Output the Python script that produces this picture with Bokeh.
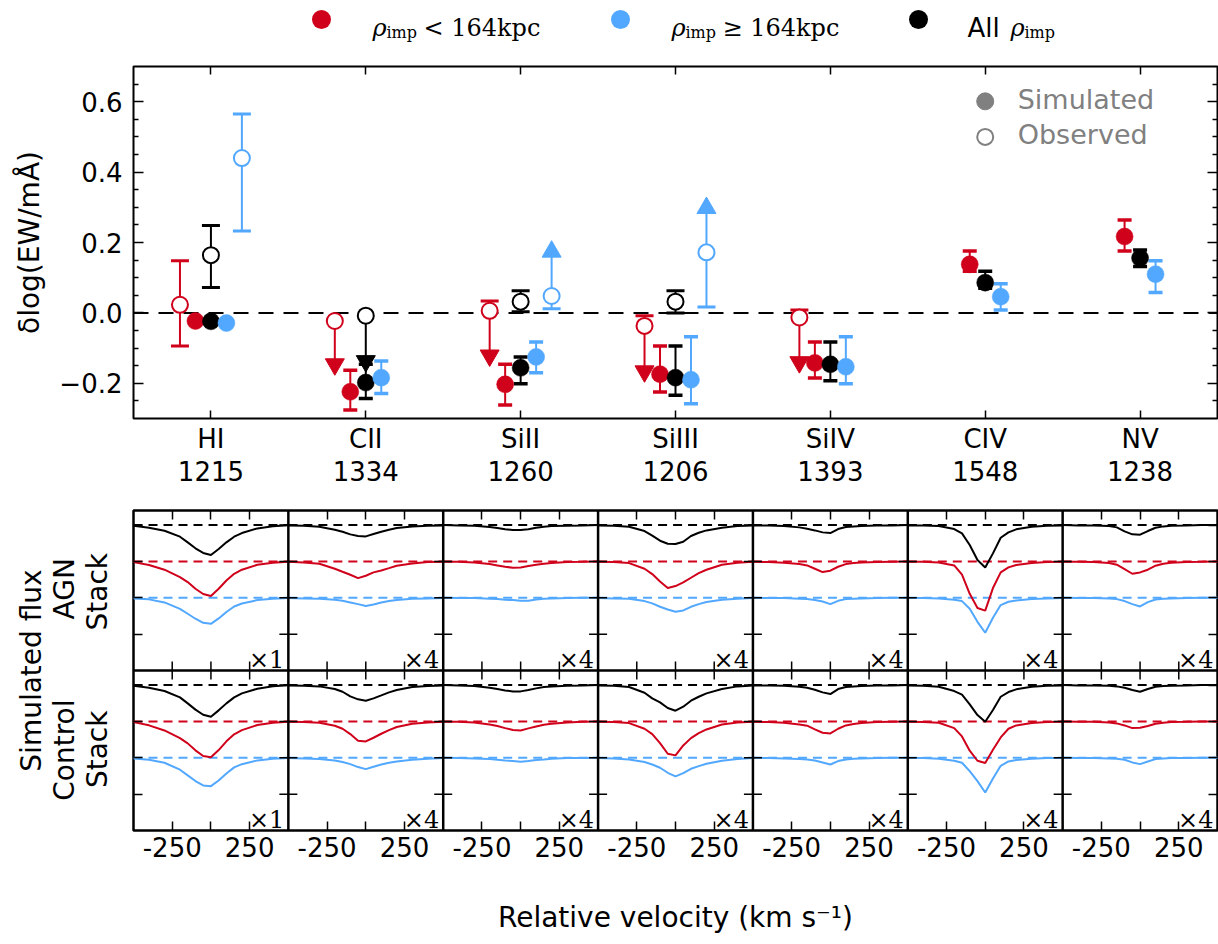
import math
from bokeh.plotting import figure
from bokeh.models import Range1d, FixedTicker, LinearAxis, Span, CustomJSTickFormatter
from bokeh.layouts import column
from bokeh.embed import file_html
from bokeh.resources import INLINE
from bokeh.core.properties import value

nan = float("nan")
RED = "#d0021b"
BLUE = "#52a8ff"
BLACK = "#000000"
GRAY = "#808080"

# ------------------------------------------------------------------ top panel data
IONS = ["HI", "CII", "SiII", "SiIII", "SiIV", "CIV", "NV"]
WAVELENGTHS = ["1215", "1334", "1260", "1206", "1393", "1548", "1238"]

# simulated (filled) -- value, lower end, upper end of error bar
SIM_NEAR = [-0.023, -0.224, -0.203, -0.174, -0.142, 0.138, 0.217]
SIM_NEAR_LO = [nan, -0.276, -0.262, -0.225, -0.185, 0.118, 0.176]
SIM_NEAR_HI = [nan, -0.163, -0.146, -0.094, -0.083, 0.176, 0.264]
SIM_ALL = [-0.024, -0.198, -0.156, -0.184, -0.146, 0.086, 0.156]
SIM_ALL_LO = [nan, -0.243, -0.201, -0.234, -0.193, 0.070, 0.132]
SIM_ALL_HI = [nan, -0.146, -0.125, -0.094, -0.083, 0.118, 0.179]
SIM_FAR = [-0.029, -0.184, -0.125, -0.190, -0.153, 0.046, 0.110]
SIM_FAR_LO = [nan, -0.229, -0.170, -0.258, -0.201, 0.008, 0.058]
SIM_FAR_HI = [nan, -0.137, -0.083, -0.068, -0.068, 0.083, 0.148]

# observed (open) -- value, error bar ends, and limit arrows
OBS_NEAR = [0.023, -0.023, 0.006, -0.037, -0.013, nan, nan]
OBS_NEAR_LO = [-0.094, nan, nan, nan, nan, nan, nan]
OBS_NEAR_HI = [0.148, nan, 0.034, -0.008, 0.008, nan, nan]
OBS_NEAR_UPPER_LIMIT = [nan, -0.146, -0.121, -0.166, -0.140, nan, nan]
OBS_ALL = [0.164, -0.008, 0.032, 0.032, nan, nan, nan]
OBS_ALL_LO = [0.072, nan, 0.003, 0.000, nan, nan, nan]
OBS_ALL_HI = [0.248, nan, 0.063, 0.063, nan, nan, nan]
OBS_ALL_UPPER_LIMIT = [nan, -0.137, nan, nan, nan, nan, nan]
OBS_FAR = [0.440, nan, 0.048, 0.172, nan, nan, nan]
OBS_FAR_LO = [0.233, nan, 0.012, 0.017, nan, nan, nan]
OBS_FAR_HI = [0.565, nan, nan, nan, nan, nan, nan]
OBS_FAR_LOWER_LIMIT = [nan, nan, 0.174, 0.298, nan, nan, nan]

# ------------------------------------------------------------------ stacked profiles
VELOCITY = [-500, -400, -300, -200, -150, -100, -50, 0, 50, 100, 150, 200, 300, 400, 500]
DISPLAY_SCALE = [1, 4, 4, 4, 4, 4, 4]
# absorption depth (percent of continuum)
HI_AGN_ALL = [0.5, 1.8, 3.9, 8.0, 11.9, 16.0, 19.2, 20.6, 16.5, 11.9, 8.0, 5.5, 2.3, 0.9, 0.2]
HI_AGN_NEAR = [0.5, 2.5, 5.7, 10.8, 14.2, 18.8, 22.4, 23.8, 18.8, 13.1, 8.5, 5.7, 2.3, 0.9, 0.2]
HI_AGN_FAR = [0.5, 1.1, 3.2, 7.6, 11.0, 14.4, 17.2, 17.9, 14.2, 9.8, 6.0, 3.9, 1.6, 0.7, 0.2]
HI_CTL_ALL = [0.5, 1.8, 4.1, 8.5, 12.6, 16.9, 20.4, 21.8, 17.4, 12.6, 8.5, 5.7, 2.5, 0.9, 0.2]
HI_CTL_NEAR = [0.5, 2.7, 6.2, 11.5, 15.1, 19.9, 23.8, 24.7, 19.7, 13.7, 8.9, 6.0, 2.5, 0.9, 0.2]
HI_CTL_FAR = [0.5, 1.4, 3.4, 8.2, 12.1, 16.0, 19.0, 19.5, 15.6, 10.8, 6.6, 4.4, 1.8, 0.7, 0.2]

C2_AGN_ALL = [0.06, 0.11, 0.29, 0.80, 1.15, 1.60, 1.89, 1.95, 1.55, 1.15, 0.80, 0.52, 0.23, 0.11, 0.06]
C2_AGN_NEAR = [0.06, 0.17, 0.40, 1.26, 1.78, 2.29, 2.87, 2.46, 1.89, 1.55, 1.15, 0.74, 0.34, 0.11, 0.06]
C2_AGN_FAR = [0.06, 0.11, 0.17, 0.34, 0.52, 0.80, 1.09, 1.43, 1.15, 0.80, 0.57, 0.40, 0.17, 0.11, 0.06]
C2_CTL_ALL = [0.06, 0.11, 0.23, 0.69, 1.15, 1.95, 2.46, 2.69, 2.29, 1.78, 1.26, 0.86, 0.34, 0.17, 0.06]
C2_CTL_NEAR = [0.06, 0.11, 0.23, 0.74, 1.26, 2.18, 3.32, 3.44, 2.81, 2.12, 1.49, 0.97, 0.40, 0.17, 0.06]
C2_CTL_FAR = [0.06, 0.11, 0.23, 0.46, 0.74, 1.09, 1.60, 1.95, 1.55, 1.15, 0.86, 0.63, 0.34, 0.17, 0.06]

SI2_AGN_ALL = [0.00, 0.06, 0.11, 0.34, 0.52, 0.74, 0.86, 0.86, 0.74, 0.46, 0.29, 0.17, 0.11, 0.06, 0.00]
SI2_AGN_NEAR = [0.06, 0.06, 0.17, 0.46, 0.69, 0.92, 1.09, 1.03, 0.80, 0.57, 0.40, 0.29, 0.11, 0.06, 0.00]
SI2_AGN_FAR = [0.00, 0.06, 0.06, 0.17, 0.23, 0.34, 0.40, 0.52, 0.52, 0.29, 0.17, 0.11, 0.06, 0.00, 0.00]
SI2_CTL_ALL = [0.00, 0.06, 0.17, 0.46, 0.69, 0.92, 1.09, 1.09, 0.86, 0.57, 0.34, 0.23, 0.11, 0.06, 0.00]
SI2_CTL_NEAR = [0.06, 0.06, 0.17, 0.52, 0.80, 1.15, 1.49, 1.55, 1.20, 0.86, 0.57, 0.40, 0.17, 0.06, 0.00]
SI2_CTL_FAR = [0.00, 0.06, 0.11, 0.23, 0.34, 0.46, 0.57, 0.69, 0.57, 0.40, 0.29, 0.17, 0.06, 0.06, 0.00]

SI3_AGN_ALL = [0.06, 0.11, 0.29, 1.03, 1.83, 2.69, 3.21, 3.27, 2.87, 1.89, 1.32, 0.92, 0.46, 0.17, 0.06]
SI3_AGN_NEAR = [0.06, 0.11, 0.29, 1.26, 2.18, 3.44, 4.58, 4.24, 3.61, 2.81, 2.01, 1.43, 0.57, 0.23, 0.06]
SI3_AGN_FAR = [0.06, 0.11, 0.17, 0.57, 0.97, 1.55, 2.01, 2.41, 2.18, 1.55, 1.09, 0.74, 0.34, 0.17, 0.06]
SI3_CTL_ALL = [0.06, 0.11, 0.34, 1.32, 2.29, 2.98, 3.95, 4.41, 3.72, 2.69, 2.01, 1.43, 0.69, 0.23, 0.06]
SI3_CTL_NEAR = [0.06, 0.11, 0.29, 1.26, 2.18, 3.72, 5.56, 5.84, 4.13, 2.87, 2.01, 1.38, 0.52, 0.17, 0.06]
SI3_CTL_FAR = [0.06, 0.11, 0.29, 0.74, 1.15, 1.72, 2.58, 3.21, 2.64, 1.89, 1.43, 1.03, 0.52, 0.23, 0.06]

SI4_AGN_ALL = [0.06, 0.06, 0.17, 0.40, 0.63, 0.92, 1.26, 1.38, 0.69, 0.34, 0.23, 0.17, 0.06, 0.06, 0.00]
SI4_AGN_NEAR = [0.06, 0.11, 0.23, 0.46, 0.69, 1.26, 1.83, 1.60, 0.92, 0.46, 0.29, 0.17, 0.11, 0.06, 0.00]
SI4_AGN_FAR = [0.00, 0.06, 0.06, 0.17, 0.23, 0.40, 0.63, 1.09, 0.52, 0.23, 0.17, 0.11, 0.06, 0.00, 0.00]
SI4_CTL_ALL = [0.06, 0.06, 0.11, 0.29, 0.46, 0.80, 1.26, 1.55, 0.69, 0.34, 0.23, 0.17, 0.06, 0.06, 0.00]
SI4_CTL_NEAR = [0.06, 0.11, 0.23, 0.52, 0.74, 1.38, 1.95, 2.06, 1.26, 0.69, 0.46, 0.29, 0.11, 0.06, 0.00]
SI4_CTL_FAR = [0.00, 0.06, 0.11, 0.23, 0.29, 0.46, 0.80, 1.15, 0.57, 0.29, 0.17, 0.11, 0.06, 0.00, 0.00]

C4_AGN_ALL = [0.06, 0.06, 0.17, 0.69, 1.43, 3.44, 6.02, 7.28, 4.87, 2.18, 1.26, 0.74, 0.29, 0.11, 0.06]
C4_AGN_NEAR = [0.06, 0.06, 0.17, 0.69, 2.29, 5.56, 8.00, 8.45, 4.58, 1.89, 1.03, 0.63, 0.29, 0.11, 0.06]
C4_AGN_FAR = [0.06, 0.06, 0.11, 0.34, 0.57, 1.89, 4.13, 6.02, 3.44, 1.26, 0.69, 0.46, 0.23, 0.11, 0.06]
C4_CTL_ALL = [0.06, 0.11, 0.29, 1.03, 1.66, 3.32, 5.16, 6.30, 4.30, 2.01, 1.20, 0.74, 0.29, 0.11, 0.06]
C4_CTL_NEAR = [0.06, 0.11, 0.23, 1.15, 2.58, 5.04, 6.76, 7.16, 4.87, 2.75, 1.26, 0.69, 0.29, 0.11, 0.06]
C4_CTL_FAR = [0.06, 0.06, 0.17, 0.52, 0.86, 2.29, 4.01, 5.96, 3.55, 1.38, 0.63, 0.40, 0.17, 0.06, 0.06]

N5_AGN_ALL = [0.00, 0.06, 0.06, 0.17, 0.40, 1.09, 1.60, 1.66, 1.03, 0.46, 0.23, 0.11, 0.06, 0.00, 0.00]
N5_AGN_NEAR = [0.06, 0.06, 0.11, 0.29, 0.57, 1.32, 2.12, 1.89, 1.43, 0.74, 0.40, 0.23, 0.11, 0.06, 0.00]
N5_AGN_FAR = [0.00, 0.06, 0.06, 0.11, 0.23, 0.57, 1.09, 1.49, 0.74, 0.29, 0.17, 0.11, 0.06, 0.00, 0.00]
N5_CTL_ALL = [0.00, 0.06, 0.06, 0.11, 0.23, 0.46, 0.86, 1.15, 0.69, 0.29, 0.17, 0.11, 0.06, 0.00, 0.00]
N5_CTL_NEAR = [0.00, 0.06, 0.06, 0.17, 0.34, 0.69, 1.15, 1.09, 0.80, 0.40, 0.23, 0.11, 0.06, 0.00, 0.00]
N5_CTL_FAR = [0.00, 0.06, 0.06, 0.11, 0.17, 0.34, 0.80, 1.09, 0.63, 0.23, 0.11, 0.06, 0.06, 0.00, 0.00]

AGN_PROFILES = [
    (HI_AGN_ALL, HI_AGN_NEAR, HI_AGN_FAR), (C2_AGN_ALL, C2_AGN_NEAR, C2_AGN_FAR),
    (SI2_AGN_ALL, SI2_AGN_NEAR, SI2_AGN_FAR), (SI3_AGN_ALL, SI3_AGN_NEAR, SI3_AGN_FAR),
    (SI4_AGN_ALL, SI4_AGN_NEAR, SI4_AGN_FAR), (C4_AGN_ALL, C4_AGN_NEAR, C4_AGN_FAR),
    (N5_AGN_ALL, N5_AGN_NEAR, N5_AGN_FAR)]
CTL_PROFILES = [
    (HI_CTL_ALL, HI_CTL_NEAR, HI_CTL_FAR), (C2_CTL_ALL, C2_CTL_NEAR, C2_CTL_FAR),
    (SI2_CTL_ALL, SI2_CTL_NEAR, SI2_CTL_FAR), (SI3_CTL_ALL, SI3_CTL_NEAR, SI3_CTL_FAR),
    (SI4_CTL_ALL, SI4_CTL_NEAR, SI4_CTL_FAR), (C4_CTL_ALL, C4_CTL_NEAR, C4_CTL_FAR),
    (N5_CTL_ALL, N5_CTL_NEAR, N5_CTL_FAR)]

FONT = "DejaVu Sans"
SERIF = "DejaVu Serif"
NB = "\u00a0"


def fin(v):
    return v is not None and not (isinstance(v, float) and math.isnan(v))


def make_axis(ticks, minor=None, labels=True, tick_len=8, minor_len=0, fs="26px", standoff=10):
    ax = LinearAxis(ticker=FixedTicker(ticks=ticks, minor_ticks=minor or []),
                    major_tick_in=tick_len, major_tick_out=0,
                    minor_tick_in=minor_len, minor_tick_out=0,
                    major_tick_line_width=1.5, minor_tick_line_width=1.5,
                    axis_line_color=None,
                    major_label_text_font=FONT,
                    major_label_text_font_size=fs if labels else "0px",
                    major_label_standoff=standoff if labels else 0,
                    major_label_text_color="black")
    if not labels:
        ax.formatter = CustomJSTickFormatter(code="return '';")
    return ax


def style_label(ax, text, size, standoff):
    ax.axis_label = text
    ax.axis_label_text_font = FONT
    ax.axis_label_text_font_size = size
    ax.axis_label_text_font_style = "normal"
    ax.axis_label_text_color = "black"
    ax.axis_label_standoff = standoff


# ------------------------------------------------------------------ legend strip
# (plot frames in a column are aligned, so this frame spans page x 133..1217)
leg = figure(width=1218, height=50, x_range=Range1d(133, 1217), y_range=Range1d(50, 0),
             x_axis_type=None, y_axis_type=None, output_backend="svg", toolbar_location=None,
             min_border=0, outline_line_color=None)
leg.scatter([321, 620, 918], [19, 19, 19], size=19, color=[RED, BLUE, BLACK], line_color=None)
leg.text(x=[372, 671, 1010], y=[27, 27, 27], text=["ρ", "ρ", "ρ"], text_font=value(SERIF),
         text_font_style="italic", text_font_size="24px", text_baseline="alphabetic",
         text_color="black")
leg.text(x=[386, 685, 1024], y=[32, 32, 32], text=["imp", "imp", "imp"], text_font=value(SERIF),
         text_font_size="16px", text_baseline="alphabetic", text_color="black")
leg.text(x=[423, 722], y=[27, 27], text=["< 164kpc", "≥ 164kpc"], text_font=value(SERIF),
         text_font_size="24px", text_baseline="alphabetic", text_color="black")
leg.text(x=[967], y=[27], text=["All"], text_font=value(FONT),
         text_font_size="26px", text_baseline="alphabetic", text_color="black")

# ------------------------------------------------------------------ top panel
top = figure(width=1218, height=455, x_range=Range1d(-0.5, 6.5), y_range=Range1d(-0.3, 0.7),
             x_axis_type=None, y_axis_type=None, output_backend="svg", toolbar_location=None,
             min_border_left=133, min_border_right=1, min_border_top=16, min_border_bottom=87)
top.outline_line_color = "black"
top.outline_line_width = 2

cats = list(range(len(IONS)))
ymaj = [-0.2, 0.0, 0.2, 0.4, 0.6]
ymin = [round(-0.25 + 0.05 * k, 2) for k in range(19)]
ymin = [t for t in ymin if all(abs(t - m) > 1e-6 for m in ymaj)]

bx = make_axis(cats, tick_len=8, standoff=5)
bx.major_label_overrides = {i: f"{IONS[i]}\n{WAVELENGTHS[i]}" for i in cats}
bx.major_label_text_line_height = 1.1
top.add_layout(bx, "below")
top.add_layout(make_axis(cats, labels=False, tick_len=8), "above")
ly = make_axis(ymaj, ymin, tick_len=10, minor_len=5, standoff=11)
ly.formatter = CustomJSTickFormatter(code="return (tick < -1e-9 ? '\u2212' : '') + Math.abs(tick).toFixed(1);")
style_label(ly, "δlog(EW/mÅ)", "28px", 10)
top.add_layout(ly, "left")
top.add_layout(make_axis(ymaj, ymin, labels=False, tick_len=10, minor_len=5), "right")

top.add_layout(Span(location=0, dimension="width", line_color="black", line_width=2,
                    line_dash="15 10", level="underlay"))

CAT_PX = 1084 / 7.0


def errorbars(p, dx, vals, lo, hi, color, cap_px, cap_w):
    x0, y0, x1, y1, cx, cy = [], [], [], [], [], []
    for i, (v, l, h) in enumerate(zip(vals, lo, hi)):
        if not fin(v):
            continue
        ends = [e for e in (l, h) if fin(e)]
        if not ends:
            continue
        pts = ends + [v]
        x0.append(i + dx); x1.append(i + dx); y0.append(min(pts)); y1.append(max(pts))
        for e in ends:
            cx.append(i + dx); cy.append(e)
    p.segment(x0=x0, y0=y0, x1=x1, y1=y1, line_color=color, line_width=2)
    half = cap_px / 2 / CAT_PX
    p.segment(x0=[c - half for c in cx], y0=cy, x1=[c + half for c in cx], y1=cy,
              line_color=color, line_width=cap_w)


def limits(p, dx, vals, lim, color, marker):
    x0, y0, y1 = [], [], []
    for i, (v, l) in enumerate(zip(vals, lim)):
        if fin(v) and fin(l):
            x0.append(i + dx); y0.append(v); y1.append(l)
    p.segment(x0=x0, y0=y0, x1=x0, y1=y1, line_color=color, line_width=2)
    p.scatter(x0, y1, marker=marker, size=19, fill_color=color, line_color=color)


groups_sim = [(-0.1, SIM_NEAR, SIM_NEAR_LO, SIM_NEAR_HI, RED),
              (0.0, SIM_ALL, SIM_ALL_LO, SIM_ALL_HI, BLACK),
              (0.1, SIM_FAR, SIM_FAR_LO, SIM_FAR_HI, BLUE)]
groups_obs = [(-0.2, OBS_NEAR, OBS_NEAR_LO, OBS_NEAR_HI, OBS_NEAR_UPPER_LIMIT, "inverted_triangle", RED),
              (0.0, OBS_ALL, OBS_ALL_LO, OBS_ALL_HI, OBS_ALL_UPPER_LIMIT, "inverted_triangle", BLACK),
              (0.2, OBS_FAR, OBS_FAR_LO, OBS_FAR_HI, OBS_FAR_LOWER_LIMIT, "triangle", BLUE)]

for dx, v, lo, hi, lim, mk, c in groups_obs:
    errorbars(top, dx, v, lo, hi, c, 18, 3)
    limits(top, dx, v, lim, c, mk)
for dx, v, lo, hi, c in groups_sim:
    errorbars(top, dx, v, lo, hi, c, 14, 3.5)
for dx, v, lo, hi, c in groups_sim:
    xs = [i + dx for i in cats if fin(v[i])]
    ys = [v[i] for i in cats if fin(v[i])]
    top.scatter(xs, ys, size=17, fill_color=c, line_color=c, line_width=0.5)
for dx, v, lo, hi, lim, mk, c in groups_obs:
    xs = [i + dx for i in cats if fin(v[i])]
    ys = [v[i] for i in cats if fin(v[i])]
    top.scatter(xs, ys, size=16, fill_color="white", line_color=c, line_width=2)

# inner legend (Simulated / Observed)
top.scatter([5.0], [0.601], size=17, fill_color=GRAY, line_color=GRAY)
top.scatter([5.0], [0.50], size=16, fill_color="white", line_color=GRAY, line_width=2)
top.text(x=[5.21, 5.21], y=[0.605, 0.506], text=["Simulated", "Observed"], text_font=value(FONT),
         text_font_size="27px", text_baseline="middle", text_color=GRAY)

# ------------------------------------------------------------------ bottom panels
ROW_H = 1.1
bot = figure(width=1218, height=439, x_range=Range1d(0, 7), y_range=Range1d(0, 2 * ROW_H),
             x_axis_type=None, y_axis_type=None, output_backend="svg", toolbar_location=None,
             min_border_left=133, min_border_right=1, min_border_top=5, min_border_bottom=114)
bot.outline_line_color = "black"
bot.outline_line_width = 2.5

LEVELS = [1.0, 0.75, 0.5]          # all, near, far stack offsets
COLORS = [BLACK, RED, BLUE]
xt = [i + f for i in range(7) for f in (0.25, 0.5, 0.75)]
yt = [r * ROW_H + f for r in (0, 1) for f in (0.25, 0.5, 0.75, 1.0)]

bxa = make_axis(xt, tick_len=9, standoff=6, fs="26px")
bxa.formatter = CustomJSTickFormatter(code="""
const f = tick - Math.floor(tick + 1e-9);
if (Math.abs(f - 0.25) < 1e-6) return '-250';
if (Math.abs(f - 0.75) < 1e-6) return '250';
return '';""")
style_label(bxa, "Relative velocity (km s⁻¹)", "28px", 41)
bot.add_layout(bxa, "below")
bot.add_layout(make_axis(xt, labels=False, tick_len=9), "above")
lya = make_axis(yt, labels=False, tick_len=9)
left_text = ("Simulated flux\n"
             "Control" + NB * 9 + "AGN" + NB * 2 + "\n"
             "Stack" + NB * 9 + "Stack")
style_label(lya, left_text, "28px", 20)
lya.axis_label_text_line_height = 1.0
lya.axis_label_text_align = "center"
bot.add_layout(lya, "left")
bot.add_layout(make_axis(yt, labels=False, tick_len=9), "right")

# dashed continuum levels
for i in range(7):
    for r in (0, 1):
        for lvl, c in zip(LEVELS, COLORS):
            yl = r * ROW_H + lvl
            bot.line([i, i + 1], [yl, yl], line_color=c, line_width=2, line_dash="9 6")

# profiles
for r, profs in ((1, AGN_PROFILES), (0, CTL_PROFILES)):
    for i, trio in enumerate(profs):
        for depth, lvl, c in zip(trio, LEVELS, COLORS):
            xs = [i + (v + 500) / 1000.0 for v in VELOCITY]
            ys = [r * ROW_H + lvl - DISPLAY_SCALE[i] * d / 100.0 for d in depth]
            bot.line(xs, ys, line_color=c, line_width=2)

# interior panel borders
bot.segment(x0=list(range(1, 7)), y0=[0] * 6, x1=list(range(1, 7)), y1=[2 * ROW_H] * 6,
            line_color="black", line_width=2.5)
bot.segment(x0=[0], y0=[ROW_H], x1=[7], y1=[ROW_H], line_color="black", line_width=2.5)
# interior ticks
dxt = 9 / CAT_PX
dyt = 9 / (320 / (2 * ROW_H))
ix0, iy0, ix1, iy1 = [], [], [], []
for b in range(1, 7):
    for y in yt:
        ix0.append(b - dxt); ix1.append(b + dxt); iy0.append(y); iy1.append(y)
for x in xt:
    ix0.append(x); ix1.append(x); iy0.append(ROW_H - dyt); iy1.append(ROW_H + dyt)
bot.segment(x0=ix0, y0=iy0, x1=ix1, y1=iy1, line_color="black", line_width=1.5)

# magnification labels
mx, my, mt = [], [], []
for r in (0, 1):
    for i in range(7):
        mx.append(i + 1 - 4 / CAT_PX); my.append(r * ROW_H + 0.07); mt.append(f"×{DISPLAY_SCALE[i]}")
bot.text(x=mx, y=my, text=mt, text_font=value(SERIF), text_font_size="24px",
         text_align="right", text_baseline="alphabetic", text_color="black")

layout = column(leg, top, bot, spacing=0)
open("out.html", "w").write(file_html(layout, INLINE))
